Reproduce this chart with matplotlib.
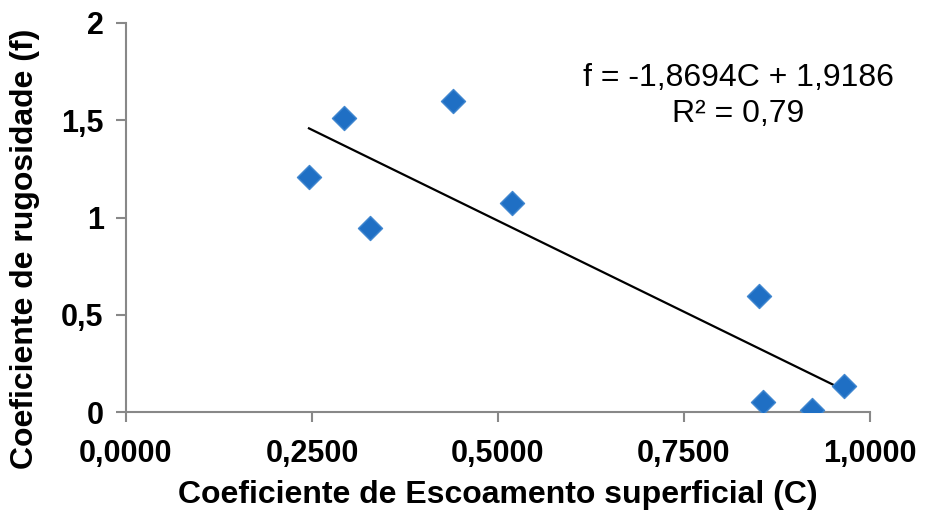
import matplotlib.pyplot as plt

plt.rcParams["font.family"] = ["Liberation Sans", "DejaVu Sans"]

# data
c_values = [0.246, 0.293, 0.328, 0.4395, 0.519, 0.851, 0.8566, 0.922, 0.9655]
f_values = [1.210, 1.510, 0.945, 1.599, 1.077, 0.599, 0.054, 0.012, 0.137]
slope = -1.8694
intercept = 1.9186
r2 = 0.79

x_ticks = [0, 0.25, 0.5, 0.75, 1.0]
x_labels = ["0,0000", "0,2500", "0,5000", "0,7500", "1,0000"]
y_ticks = [0, 0.5, 1, 1.5, 2]
y_labels = ["0", "0,5", "1", "1,5", "2"]

fig = plt.figure(figsize=(9.26, 5.13), dpi=100)
ax = fig.add_axes([0.136, 0.1963, 0.8035, 0.7589])

ax.scatter(c_values, f_values, marker="D", s=150, color="#1f6fc4",
           edgecolors="#3f86cf", linewidths=1, zorder=3)

# linear trendline across the data range
x0, x1 = min(c_values), max(c_values)
ax.plot([x0, x1], [slope * x0 + intercept, slope * x1 + intercept],
        color="black", lw=1.6, zorder=2)

eq = "f = -1,8694C + 1,9186\nR² = " + f"{r2:.2f}".replace(".", ",")
ax.text(0.8226, 1.625, eq, ha="center", va="center", fontsize=23,
        linespacing=1.25)

ax.set_xlim(0, 1)
ax.set_ylim(0, 2)
ax.set_xticks(x_ticks)
ax.set_xticklabels(x_labels)
ax.set_yticks(y_ticks)
ax.set_yticklabels(y_labels)

for side in ["top", "right"]:
    ax.spines[side].set_visible(False)
for side in ["left", "bottom"]:
    ax.spines[side].set_color("#888888")
    ax.spines[side].set_linewidth(1.5)

ax.tick_params(axis="both", direction="out", length=7, width=1.5,
               color="#888888", labelsize=22)
ax.tick_params(axis="x", pad=12)
ax.tick_params(axis="y", pad=9)
for lbl in ax.get_xticklabels() + ax.get_yticklabels():
    lbl.set_fontweight("bold")

ax.set_xlabel("Coeficiente de Escoamento superficial (C)", fontsize=23,
              fontweight="bold", labelpad=8)
ax.set_ylabel("Coeficiente de rugosidade (f)", fontsize=23,
              fontweight="bold")
ax.yaxis.set_label_coords(-0.1156, 0.4195)

fig.savefig("out.png", dpi=100)
